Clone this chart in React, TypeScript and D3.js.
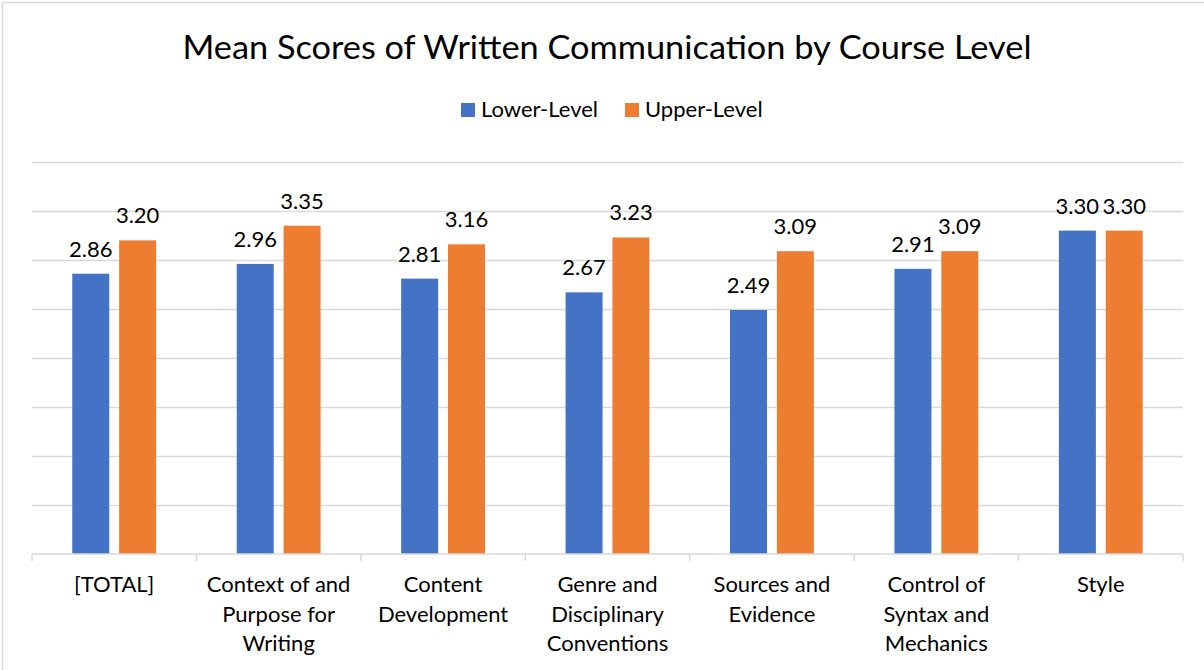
import React, { useEffect } from "react";
import * as d3 from "d3";

const categories: string[][] = [
  ["[TOTAL]"],
  ["Context of and", "Purpose for", "Writing"],
  ["Content", "Development"],
  ["Genre and", "Disciplinary", "Conventions"],
  ["Sources and", "Evidence"],
  ["Control of", "Syntax and", "Mechanics"],
  ["Style"],
];
const lowerLevel = [2.86, 2.96, 2.81, 2.67, 2.49, 2.91, 3.3];
const upperLevel = [3.2, 3.35, 3.16, 3.23, 3.09, 3.09, 3.3];
const seriesNames = ["Lower-Level", "Upper-Level"];
const gridTicks = [0, 0.5, 1, 1.5, 2, 2.5, 3, 3.5, 4];
const title = "Mean Scores of Written Communication by Course Level";

const W = 1204;
const H = 670;
const FONT = "Lato, 'Open Sans', sans-serif";
const colors = ["#4472C4", "#ED7D31"];
const gridColor = "#d9d9d9";

export default function App() {
  useEffect(() => {
    document.body.style.margin = "0";
  }, []);

  const x = d3
    .scaleBand<number>()
    .domain(d3.range(categories.length))
    .range([32, 1183])
    .paddingInner(0)
    .paddingOuter(0);
  const y = d3.scaleLinear().domain([0, 4]).range([554, 162]);
  const bw = x.bandwidth();
  const barW = bw * 0.225;
  const gap = bw * 0.06;
  const series = [lowerLevel, upperLevel];

  return (
    <svg width={W} height={H} style={{ display: "block", background: "#fff" }}>
      <rect x={2.5} y={2.5} width={W + 10} height={H + 10} fill="#fff" stroke={gridColor} strokeWidth={1.5} />
      <text
        x={607}
        y={59}
        textAnchor="middle"
        fontFamily={FONT}
        fontSize={33}
        fill="#000"
        textLength={849}
        lengthAdjust="spacingAndGlyphs"
      >
        {title}
      </text>
      {/* legend */}
      {seriesNames.map((n, i) => {
        const lx = i === 0 ? 461 : 625;
        return (
          <g key={n}>
            <rect x={lx} y={103} width={14} height={14} fill={colors[i]} />
            <text x={lx + 20} y={117} fontFamily={FONT} fontSize={22} fill="#000">
              {n}
            </text>
          </g>
        );
      })}
      {/* gridlines */}
      {gridTicks.slice(1).map((t) => (
        <line key={t} x1={32} x2={1183} y1={Math.round(y(t)) + 0.5} y2={Math.round(y(t)) + 0.5} stroke={gridColor} strokeWidth={1.5} />
      ))}
      {/* bars */}
      {categories.map((_, ci) => {
        const cx = (x(ci) as number) + bw / 2;
        return series.map((s, si) => {
          const bx = si === 0 ? cx - gap / 2 - barW : cx + gap / 2;
          const v = s[ci];
          return (
            <g key={`${ci}-${si}`}>
              <rect x={bx} y={y(v)} width={barW} height={y(0) - y(v)} fill={colors[si]} />
              <text
                x={bx + barW / 2}
                y={y(v) - 17}
                textAnchor="middle"
                fontFamily={FONT}
                fontSize={22}
                fill="#000"
              >
                {v.toFixed(2)}
              </text>
            </g>
          );
        });
      })}
      {/* axis */}
      <line x1={32} x2={1183} y1={554} y2={554} stroke={gridColor} strokeWidth={1.5} />
      {d3.range(categories.length + 1).map((i) => {
        const tx = i < categories.length ? (x(i) as number) : 1183;
        return <line key={i} x1={tx} x2={tx} y1={554} y2={561} stroke={gridColor} strokeWidth={1.5} />;
      })}
      {categories.map((lines, ci) => {
        const cx = (x(ci) as number) + bw / 2;
        return (
          <text key={ci} textAnchor="middle" fontFamily={FONT} fontSize={22} fill="#000">
            {lines.map((l, li) => (
              <tspan key={li} x={cx} y={592 + li * 29.5}>
                {l}
              </tspan>
            ))}
          </text>
        );
      })}
    </svg>
  );
}
